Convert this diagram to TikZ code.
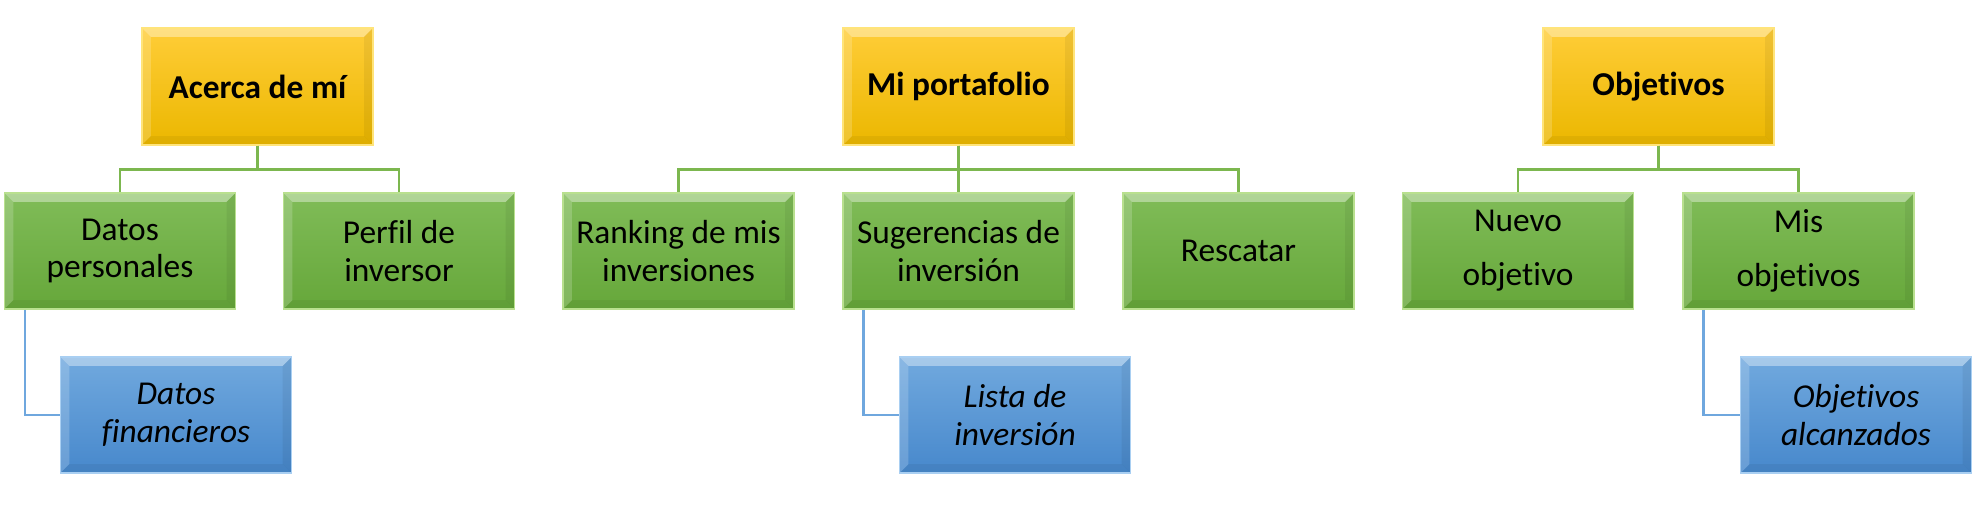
\documentclass[tikz,border=0pt]{standalone}
\usepackage{fontspec}
\setmainfont[Ligatures=NoCommon]{Carlito}
\usepackage{tikz}
\usetikzlibrary{positioning}

\definecolor{oroA}{HTML}{FFCD38}
\definecolor{oroB}{HTML}{EBB700}
\definecolor{oroL}{HTML}{FFE47A}
\definecolor{verdeA}{HTML}{80BC58}
\definecolor{verdeB}{HTML}{66A73A}
\definecolor{verdeL}{HTML}{B9E08F}
\definecolor{azulA}{HTML}{71A9DE}
\definecolor{azulB}{HTML}{4788CC}
\definecolor{azulL}{HTML}{A9CFF2}
\definecolor{ramaV}{HTML}{7CB74F}
\definecolor{ramaA}{HTML}{6FA7DE}

\tikzset{
  bisel/.style={path picture={
    \fill[white,opacity=.38] (path picture bounding box.north west) -- (path picture bounding box.north east)
      -- ([shift={(-5pt,-5pt)}]path picture bounding box.north east) -- ([shift={(5pt,-5pt)}]path picture bounding box.north west) -- cycle;
    \fill[white,opacity=.18] (path picture bounding box.north west) -- ([shift={(5pt,-5pt)}]path picture bounding box.north west)
      -- ([shift={(5pt,5pt)}]path picture bounding box.south west) -- (path picture bounding box.south west) -- cycle;
    \fill[black,opacity=.06] (path picture bounding box.north east) -- ([shift={(-5pt,-5pt)}]path picture bounding box.north east)
      -- ([shift={(-5pt,5pt)}]path picture bounding box.south east) -- (path picture bounding box.south east) -- cycle;
    \fill[black,opacity=.05] (path picture bounding box.south west) -- ([shift={(5pt,5pt)}]path picture bounding box.south west)
      -- ([shift={(-5pt,5pt)}]path picture bounding box.south east) -- (path picture bounding box.south east) -- cycle;
  }},
  caja/.style={rectangle, bisel, minimum width=4.62cm, minimum height=2.32cm, align=center,
    inner sep=2pt, line width=0.6pt, text=black},
  topbox/.style={caja, minimum height=2.34cm, draw=oroL, top color=oroA, bottom color=oroB,
    font=\bfseries\fontsize{19}{22}\selectfont},
  subbox/.style={caja, draw=verdeL, top color=verdeA, bottom color=verdeB,
    font=\fontsize{19}{21.6}\selectfont},
  leafbox/.style={caja, draw=azulL, top color=azulA, bottom color=azulB,
    font=\itshape\fontsize{19}{21.6}\selectfont},
  rama/.style={draw=ramaV, line width=1.6pt},
  subrama/.style={draw=ramaA, line width=1.6pt}
}

\begin{document}
\begin{tikzpicture}

\useasboundingbox (0,0) rectangle (39.48,10.16);

% primer bloque
\node[topbox] (acerca) at (5.15,8.43) {Acerca de mí};
\node[subbox] (datos) at (2.40,5.14) {Datos\\personales};
\node[subbox] (perfil) at (7.98,5.14) {Perfil de\\inversor};
\node[leafbox] (financieros) at (3.52,1.86) {Datos\\financieros};

% segundo bloque
\node[topbox] (portafolio) at (19.17,8.43) {Mi portafolio};
\node[subbox] (ranking) at (13.57,5.14) {Ranking de mis\\inversiones};
\node[subbox] (sugerencias) at (19.17,5.14) {Sugerencias de\\inversión};
\node[subbox] (rescatar) at (24.77,5.14) {Rescatar};
\node[leafbox] (lista) at (20.30,1.86) {Lista de\\inversión};

% tercer bloque
\node[topbox] (objetivos) at (33.17,8.43) {Objetivos};
\node[subbox] (nuevo) at (30.36,5.14) {Nuevo\\[0.32cm]objetivo};
\node[subbox] (misobj) at (35.97,5.14) {Mis\\[0.32cm]objetivos};
\node[leafbox] (alcanzados) at (37.12,1.86) {Objetivos\\alcanzados};

\draw[rama] (acerca.south) -- ++(0,-0.48) -| (datos.north);
\draw[rama] (acerca.south) -- ++(0,-0.48) -| (perfil.north);
\draw[rama] (portafolio.south) -- ++(0,-0.48) -| (ranking.north);
\draw[rama] (portafolio.south) -- (sugerencias.north);
\draw[rama] (portafolio.south) -- ++(0,-0.48) -| (rescatar.north);
\draw[rama] (objetivos.south) -- ++(0,-0.48) -| (nuevo.north);
\draw[rama] (objetivos.south) -- ++(0,-0.48) -| (misobj.north);

\draw[subrama] ([xshift=0.42cm]datos.south west) |- (financieros.west);
\draw[subrama] ([xshift=0.42cm]sugerencias.south west) |- (lista.west);
\draw[subrama] ([xshift=0.42cm]misobj.south west) |- (alcanzados.west);

\end{tikzpicture}
\end{document}
